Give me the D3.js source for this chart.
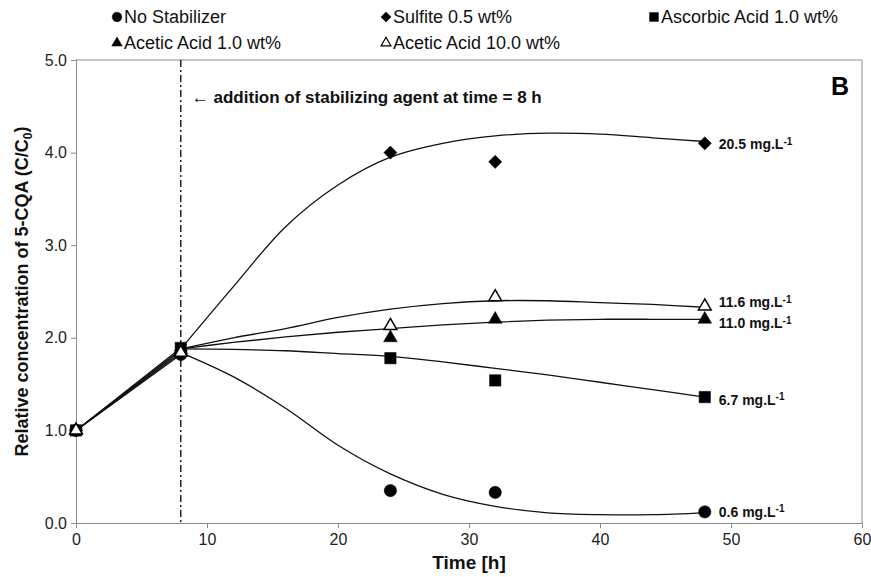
<!DOCTYPE html>
<html>
<head>
<meta charset="utf-8">
<script src="https://cdn.jsdelivr.net/npm/d3@7/dist/d3.min.js"></script>
<style>
  body { margin: 0; background: #fff; }
  text { font-family: "Liberation Sans", Arial, sans-serif; }
</style>
</head>
<body>
<div id="chart"></div>
<script>
// measured points
const times = [0, 8, 24, 32, 48];
const noStab = [1.0, 1.82, 0.35, 0.33, 0.12];
const sulfite = [1.0, 1.86, 4.0, 3.9, 4.1];
const ascorbic = [1.0, 1.89, 1.78, 1.54, 1.36];
const acetic1 = [1.0, 1.87, 2.0, 2.2, 2.2];
const acetic10 = [1.0, 1.84, 2.13, 2.44, 2.34];

// fitted trend lines after addition
const fitTimes = [8, 12, 16, 20, 24, 28, 32, 36, 40, 44, 48];
const noStabFit = [1.84, 1.58, 1.24, 0.84, 0.53, 0.31, 0.18, 0.11, 0.09, 0.09, 0.11];
const sulfiteFit = [1.88, 2.55, 3.2, 3.65, 3.95, 4.1, 4.18, 4.21, 4.2, 4.16, 4.12];
const ascorbicFit = [1.88, 1.875, 1.86, 1.83, 1.8, 1.74, 1.67, 1.6, 1.52, 1.44, 1.36];
const acetic1Fit = [1.88, 1.95, 2.01, 2.06, 2.1, 2.14, 2.17, 2.19, 2.2, 2.2, 2.2];
const acetic10Fit = [1.88, 2.0, 2.1, 2.22, 2.31, 2.37, 2.4, 2.4, 2.38, 2.36, 2.33];

const seriesNames = ["No Stabilizer", "Sulfite 0.5 wt%", "Ascorbic Acid 1.0 wt%", "Acetic Acid 1.0 wt%", "Acetic Acid 10.0 wt%"];
const endLabels = ["0.6", "20.5", "6.7", "11.0", "11.6"];
const xTicks = [0, 10, 20, 30, 40, 50, 60];
const yTicks = [0, 1, 2, 3, 4, 5];

const series = [
  { name: seriesNames[0], vals: noStab, fit: noStabFit, sym: d3.symbolCircle, size: 120, fill: "#000", lab: endLabels[0], dy: 0 },
  { name: seriesNames[1], vals: sulfite, fit: sulfiteFit, sym: d3.symbolDiamond2, size: 110, fill: "#000", lab: endLabels[1], dy: 1 },
  { name: seriesNames[2], vals: ascorbic, fit: ascorbicFit, sym: d3.symbolSquare, size: 130, fill: "#000", lab: endLabels[2], dy: 3 },
  { name: seriesNames[3], vals: acetic1, fit: acetic1Fit, sym: d3.symbolTriangle, size: 80, fill: "#000", lab: endLabels[3], dy: 4 },
  { name: seriesNames[4], vals: acetic10, fit: acetic10Fit, sym: d3.symbolTriangle, size: 70, fill: "#fff", lab: endLabels[4], dy: -4 },
];

const W = 871, H = 577;
const m = { left: 76, right: 9, top: 60, bottom: 54 };
const svg = d3.select("#chart").append("svg").attr("width", W).attr("height", H);

const x = d3.scaleLinear().domain([0, 60]).range([m.left, W - m.right]);
const y = d3.scaleLinear().domain([0, 5]).range([H - m.bottom, m.top]);

const axisColor = "#8c8c8c";

// frame
svg.append("line").attr("x1", x(0)).attr("x2", x(60)).attr("y1", y(5)).attr("y2", y(5)).attr("stroke", axisColor);
svg.append("line").attr("x1", x(60)).attr("x2", x(60)).attr("y1", y(5)).attr("y2", y(0)).attr("stroke", axisColor);

const xAxis = svg.append("g").attr("transform", `translate(0,${y(0)})`)
  .call(d3.axisBottom(x).tickValues(xTicks).tickFormat(d3.format("d")).tickSizeOuter(0).tickSize(5).tickPadding(6));
const yAxis = svg.append("g").attr("transform", `translate(${x(0)},0)`)
  .call(d3.axisLeft(y).tickValues(yTicks).tickFormat(d3.format(".1f")).tickSizeOuter(0).tickSize(5).tickPadding(4));
[xAxis, yAxis].forEach(g => {
  g.select(".domain").attr("stroke", axisColor);
  g.selectAll(".tick line").attr("stroke", axisColor);
  g.selectAll(".tick text").attr("fill", "#222").style("font-size", "16px").style("font-family", "'Liberation Sans', Arial, sans-serif");
});

// addition marker
svg.append("line").attr("x1", x(8)).attr("x2", x(8)).attr("y1", y(5)).attr("y2", y(0))
  .attr("stroke", "#000").attr("stroke-width", 1.3).attr("stroke-dasharray", "7,3,2,3");

const line = d3.line().x(d => x(d[0])).y(d => y(d[1]));
const smooth = d3.line().curve(d3.curveCatmullRom).x(d => x(d[0])).y(d => y(d[1]));

series.forEach(s => {
  svg.append("path").attr("fill", "none").attr("stroke", "#111").attr("stroke-width", 1.3)
    .attr("d", line([[times[0], s.vals[0]], [times[1], s.vals[1]]]));
  svg.append("path").attr("fill", "none").attr("stroke", "#111").attr("stroke-width", 1.3)
    .attr("d", smooth(fitTimes.map((t, i) => [t, s.fit[i]])));
});

series.forEach(s => {
  svg.selectAll(null).data(times.map((t, i) => [t, s.vals[i]])).enter()
    .append("path")
    .attr("d", d3.symbol().type(s.sym).size(s.size))
    .attr("transform", d => `translate(${x(d[0])},${y(d[1])})`)
    .attr("fill", s.fill).attr("stroke", "#000").attr("stroke-width", s.fill === "#fff" ? 1.5 : 0.5);

  const last = s.vals[s.vals.length - 1];
  const t = svg.append("text").attr("x", x(48) + 14).attr("y", y(last) + s.dy).attr("dy", "0.35em")
    .style("font-size", "14px").style("font-weight", "bold").attr("fill", "#111");
  t.append("tspan").text(s.lab + " mg.L");
  t.append("tspan").attr("dy", "-0.45em").style("font-size", "10px").text("-1");
});

// legend
const legPos = [[117, 17], [386, 17], [654, 17], [117, 43], [386, 43]];
series.forEach((s, i) => {
  const [lx, ly] = legPos[i];
  svg.append("path").attr("d", d3.symbol().type(s.sym).size(s.size * 0.6))
    .attr("transform", `translate(${lx},${ly})`)
    .attr("fill", s.fill).attr("stroke", "#000").attr("stroke-width", s.fill === "#fff" ? 1.2 : 0.5);
  svg.append("text").attr("x", lx + 7).attr("y", ly).attr("dy", "0.35em")
    .style("font-size", "18px").attr("fill", "#111").text(s.name);
});

// annotations
svg.append("text").attr("x", x(8) + 11).attr("y", 97).attr("dy", "0.35em")
  .style("font-size", "17px").attr("fill", "#111")
  .call(t => {
    t.append("tspan").text("← ");
    t.append("tspan").style("font-weight", "bold").text("addition of stabilizing agent at time = 8 h");
  });
svg.append("text").attr("x", 840).attr("y", 86).attr("dy", "0.35em").attr("text-anchor", "middle")
  .style("font-size", "25px").style("font-weight", "bold").attr("fill", "#000").text("B");

// axis titles
svg.append("text").attr("x", (x(0) + x(60)) / 2).attr("y", 562).attr("dy", "0.35em").attr("text-anchor", "middle")
  .style("font-size", "19px").style("font-weight", "bold").attr("fill", "#111").text("Time [h]");
svg.append("text").attr("transform", `translate(22,${(y(0) + y(5)) / 2}) rotate(-90)`).attr("dy", "0.35em")
  .attr("text-anchor", "middle").style("font-size", "18px").style("font-weight", "bold").attr("fill", "#111")
  .call(t => {
    t.append("tspan").text("Relative concentration of 5-CQA (C/C");
    t.append("tspan").attr("dy", "0.3em").style("font-size", "12px").text("0");
    t.append("tspan").attr("dy", "-0.3em").text(")");
  });
</script>
</body>
</html>
